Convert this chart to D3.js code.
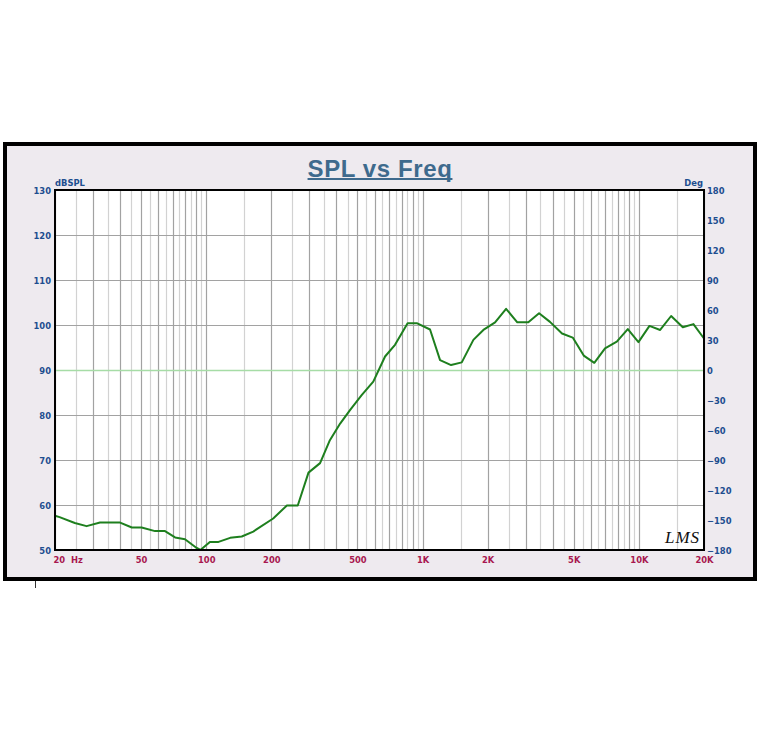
<!DOCTYPE html>
<html>
<head>
<meta charset="utf-8">
<script src="https://cdn.jsdelivr.net/npm/d3@7"></script>
<style>
  html, body { margin: 0; padding: 0; background: #ffffff; }
  svg { display: block; }
</style>
</head>
<body>
<svg id="chart" width="764" height="748"></svg>
<script>
// ---- data ----
const freqs = [20, 21, 24.7, 28, 32.3, 40, 45.3, 50.3, 58, 64.5, 71.8, 79.8, 90, 94,
  104, 114, 129, 146, 165, 204, 236, 265, 297, 336, 373, 416, 462, 523, 592, 671,
  746, 853, 940, 1083, 1205, 1355, 1518, 1718, 1911, 2164, 2433, 2742, 3083, 3457,
  3882, 4413, 4946, 5561, 6222, 6975, 7906, 8888, 9956, 11193, 12540, 14097, 15962,
  17871, 20000];
const spl = [57.6, 57.3, 56.0, 55.3, 56.1, 56.1, 55.0, 55.0, 54.2, 54.2, 52.8, 52.4, 50.5, 50.0,
  51.8, 51.8, 52.7, 53.0, 54.1, 57.0, 59.9, 59.9, 67.2, 69.3, 74.4, 78.1, 81.1, 84.4, 87.4, 93.0,
  95.6, 100.4, 100.4, 99.0, 92.2, 91.1, 91.7, 96.7, 98.9, 100.6, 103.6, 100.6, 100.6, 102.6,
  100.7, 98.1, 97.2, 93.2, 91.6, 94.8, 96.3, 99.1, 96.2, 99.8, 98.9, 102.0, 99.5,
  100.2, 97.0];
const dbTicks = [50, 60, 70, 80, 90, 100, 110, 120, 130];
const phaseTicks = [-180, -150, -120, -90, -60, -30, 0, 30, 60, 90, 120, 150, 180];
const freqTicks = [20, 50, 100, 200, 500, 1000, 2000, 5000, 10000, 20000];
const freqTickLabels = ["20  Hz", "50", "100", "200", "500", "1K", "2K", "5K", "10K", "20K"];
const titleText = "SPL vs Freq";
const leftUnit = "dBSPL";
const rightUnit = "Deg";

// ---- layout ----
const L = 55, R = 704, T = 190, B = 550;
const svg = d3.select("#chart");

const x = d3.scaleLog().domain([20, 20000]).range([L, R]);
const y = d3.scaleLinear().domain([50, 130]).range([B, T]);
const yPh = d3.scaleLinear().domain([-180, 180]).range([B, T]);

// outer frame
svg.append("rect").attr("x", 5).attr("y", 144).attr("width", 750).attr("height", 435)
  .attr("fill", "#EEEAEF").attr("stroke", "#000").attr("stroke-width", 4);
svg.append("line").attr("x1", 35.5).attr("x2", 35.5).attr("y1", 581).attr("y2", 588)
  .attr("stroke", "#333").attr("stroke-width", 1);

// plot background
svg.append("rect").attr("x", L).attr("y", T).attr("width", R - L).attr("height", B - T)
  .attr("fill", "#ffffff");

// vertical grid frequencies
const grid = [];
for (let f = 20; f <= 100; f += 5) grid.push({ f, dark: f % 10 === 0 });
[100, 1000, 10000].forEach(d => {
  grid.push({ f: 1.5 * d, dark: false });
  for (let m = 2; m <= 10; m += 0.5) {
    const f = m * d;
    if (f > 20000) break;
    grid.push({ f, dark: Number.isInteger(m) });
  }
});
svg.append("g").selectAll("line").data(grid.filter(g => !g.dark)).join("line")
  .attr("x1", d => Math.round(x(d.f)) + 0.5).attr("x2", d => Math.round(x(d.f)) + 0.5)
  .attr("y1", T).attr("y2", B).attr("stroke", "#D2D2D2").attr("stroke-width", 1.2);
svg.append("g").selectAll("line").data(grid.filter(g => g.dark)).join("line")
  .attr("x1", d => Math.round(x(d.f)) + 0.5).attr("x2", d => Math.round(x(d.f)) + 0.5)
  .attr("y1", T).attr("y2", B).attr("stroke", "#A2A2A2").attr("stroke-width", 1.2);

// horizontal grid
svg.append("g").selectAll("line").data(dbTicks.filter(v => v > 50 && v < 130 && v !== 90)).join("line")
  .attr("x1", L).attr("x2", R).attr("y1", d => Math.round(y(d)) + 0.5).attr("y2", d => Math.round(y(d)) + 0.5)
  .attr("stroke", "#A2A2A2").attr("stroke-width", 1.2);
// phase zero line
svg.append("line").attr("x1", L).attr("x2", R)
  .attr("y1", Math.round(yPh(0)) + 0.5).attr("y2", Math.round(yPh(0)) + 0.5)
  .attr("stroke", "#A6DCA6").attr("stroke-width", 1.4);

// curve
const line = d3.line().x((d, i) => x(freqs[i])).y(d => y(d));
svg.append("path").datum(spl).attr("d", line)
  .attr("fill", "none").attr("stroke", "#1E7F1E").attr("stroke-width", 2)
  .attr("stroke-linejoin", "round");

// plot border
svg.append("rect").attr("x", L).attr("y", T).attr("width", R - L).attr("height", B - T)
  .attr("fill", "none").attr("stroke", "#000").attr("stroke-width", 2);

// axes
const tickFont = "'DejaVu Sans', Verdana, sans-serif";
const fs = "8.4px";
const blue = "#1D4E8F";
const red = "#A8174F";

const ax = svg.append("g")
  .call(d3.axisLeft(y).tickValues(dbTicks).tickSize(0).tickPadding(0).tickFormat(d3.format("d")));
ax.select(".domain").remove();
ax.selectAll("text").attr("fill", blue).style("font-family", tickFont)
  .style("font-size", fs).style("font-weight", "bold").attr("x", L - 4).attr("dy", "0.4em");

const ar = svg.append("g")
  .call(d3.axisRight(yPh).tickValues(phaseTicks).tickSize(0).tickPadding(0).tickFormat(d3.format("d")));
ar.select(".domain").remove();
ar.selectAll("text").attr("fill", blue).style("font-family", tickFont)
  .style("font-size", fs).style("font-weight", "bold").attr("x", R + 3).attr("dy", "0.4em");

const ab = svg.append("g").attr("transform", `translate(0,${B})`)
  .call(d3.axisBottom(x).tickValues(freqTicks).tickSize(0).tickPadding(0)
    .tickFormat((d, i) => freqTickLabels[i]));
ab.select(".domain").remove();
ab.selectAll("text").attr("fill", red).style("font-family", tickFont)
  .style("font-size", fs).style("font-weight", "bold").style("white-space", "pre")
  .attr("y", 12.5).attr("dy", 0);
ab.selectAll("text").filter((d, i) => i === 0).attr("text-anchor", "start").attr("dx", -2);

// unit labels
svg.append("text").attr("x", L).attr("y", 186).text(leftUnit)
  .attr("fill", blue).style("font-family", tickFont).style("font-size", fs).style("font-weight", "bold");
svg.append("text").attr("x", R - 1).attr("y", 186).attr("text-anchor", "end").text(rightUnit)
  .attr("fill", blue).style("font-family", tickFont).style("font-size", fs).style("font-weight", "bold");

// title
const titleColor = "#3E6A8D";
const title = svg.append("text").attr("x", 380).attr("y", 176.5).attr("text-anchor", "middle")
  .text(titleText).attr("fill", titleColor)
  .style("font-family", "'Liberation Sans', Arial, sans-serif").style("font-size", "24px")
  .style("font-weight", "bold").style("letter-spacing", "0.6px");
const bb = title.node().getBBox();
svg.append("line").attr("x1", bb.x).attr("x2", bb.x + bb.width).attr("y1", 179).attr("y2", 179)
  .attr("stroke", titleColor).attr("stroke-width", 2);

// LMS logo
svg.append("text").attr("x", 665).attr("y", 543).text("LMS")
  .attr("fill", "#111").style("font-family", "'Liberation Serif', serif")
  .style("font-style", "italic").style("font-size", "17px").style("letter-spacing", "1px");
</script>
</body>
</html>
